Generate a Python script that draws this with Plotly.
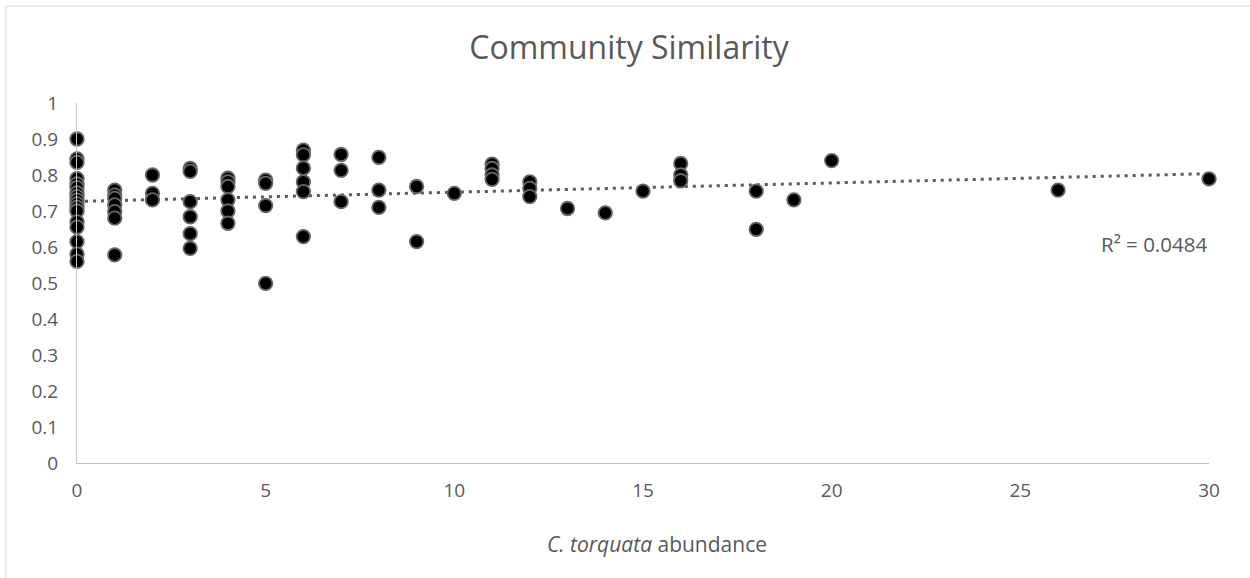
import numpy as np
import plotly.graph_objects as go

# Data
abundance = [0]*17 + [1]*7 + [2]*3 + [3]*6 + [4]*6 + [5]*4 + [6]*6 + [7]*3 + [8]*3 + [9]*2 + [10] + [11]*4 + [12]*3 + [13] + [14] + [15] + [16]*3 + [18]*2 + [19] + [20] + [26] + [30]
similarity = [
    0.90, 0.845, 0.835, 0.79, 0.775, 0.765, 0.75, 0.74, 0.73, 0.72, 0.71, 0.70, 0.67, 0.655, 0.615, 0.58, 0.56,   # 0
    0.758, 0.744, 0.735, 0.717, 0.698, 0.68, 0.578,                                                                  # 1
    0.80, 0.749, 0.731,                                                                                              # 2
    0.818, 0.81, 0.726, 0.684, 0.637, 0.596,                                                                         # 3
    0.791, 0.781, 0.768, 0.731, 0.70, 0.666,                                                                         # 4
    0.786, 0.777, 0.715, 0.499,                                                                                      # 5
    0.869, 0.856, 0.819, 0.781, 0.754, 0.629,                                                                        # 6
    0.857, 0.813, 0.726,                                                                                             # 7
    0.849, 0.758, 0.71,                                                                                              # 8
    0.768, 0.615,                                                                                                    # 9
    0.749,                                                                                                           # 10
    0.830, 0.818, 0.80, 0.788,                                                                                       # 11
    0.781, 0.763, 0.740,                                                                                             # 12
    0.707,                                                                                                           # 13
    0.695,                                                                                                           # 14
    0.755,                                                                                                           # 15
    0.832, 0.80, 0.784,                                                                                              # 16
    0.755, 0.649,                                                                                                    # 18
    0.731,                                                                                                           # 19
    0.840,                                                                                                           # 20
    0.758,                                                                                                           # 26
    0.789,                                                                                                           # 30
]
r2_label = "R² = 0.0484"
title_text = "Community Similarity"
x_ticks = [0, 5, 10, 15, 20, 25, 30]
y_ticks = [0, 0.1, 0.2, 0.3, 0.4, 0.5, 0.6, 0.7, 0.8, 0.9, 1]

TEXT = "#595959"
FONT = "Open Sans"

# Linear trendline fitted to the data
slope, intercept = np.polyfit(abundance, similarity, 1)
trend_x = np.array([0, 30])
trend_y = slope * trend_x + intercept

fig = go.Figure()
fig.add_trace(go.Scatter(
    x=trend_x, y=trend_y, mode="lines",
    line=dict(color=TEXT, width=3, dash="3px,5px"),
    hoverinfo="skip", showlegend=False, cliponaxis=False,
))
fig.add_trace(go.Scatter(
    x=abundance, y=similarity, mode="markers",
    marker=dict(size=13.5, color="black", line=dict(color="#666666", width=1.8)),
    showlegend=False, cliponaxis=False,
))

W, H = 1250, 578
L, R, T, B = 77, 41, 103, 115
pw, ph = W - L - R, H - T - B

def px_x(p):
    return (p - L) / pw

def px_y(p):
    return (H - B - p) / ph

fig.update_layout(
    width=W, height=H,
    margin=dict(l=L, r=R, t=T, b=B),
    paper_bgcolor="white", plot_bgcolor="white",
    font=dict(family=FONT, color=TEXT, size=19),
    title=dict(text=title_text, x=629 / W, xanchor="center", y=1 - 48 / H, yanchor="middle",
               yref="container", xref="container",
               font=dict(size=32, color=TEXT, family=FONT)),
    xaxis=dict(range=[0, 30], tickvals=x_ticks, showgrid=False, zeroline=False,
               showline=True, linecolor="#bfbfbf", linewidth=1, ticks="",
               ticklabelstandoff=10, tickfont=dict(size=19, color=TEXT)),
    yaxis=dict(range=[0, 1], tickvals=y_ticks, showgrid=False, zeroline=False,
               showline=True, linecolor="#c8c8c8", linewidth=1, ticks="",
               ticklabelstandoff=14, tickfont=dict(size=19, color=TEXT)),
    annotations=[
        dict(text="<i>C. torquata</i> abundance", xref="paper", yref="paper",
             x=px_x(657), y=px_y(544), xanchor="center", yanchor="middle", showarrow=False,
             font=dict(size=21, color=TEXT, family=FONT)),
        dict(text=r2_label, xref="x", yref="paper", x=30, y=px_y(244),
             xanchor="right", xshift=0, yanchor="middle", showarrow=False,
             font=dict(size=20.5, color=TEXT, family=FONT)),
    ],
    shapes=[
        dict(type="line", xref="paper", yref="paper", x0=px_x(6), x1=px_x(1262),
             y0=px_y(6), y1=px_y(6), line=dict(color="#d9d9d9", width=1)),
        dict(type="line", xref="paper", yref="paper", x0=px_x(6), x1=px_x(6),
             y0=px_y(6), y1=px_y(590), line=dict(color="#d9d9d9", width=1)),
    ],
)

fig.write_html("out.html", config={"displayModeBar": False},
               post_script="document.body.style.margin='0';document.body.style.overflow='hidden';")
